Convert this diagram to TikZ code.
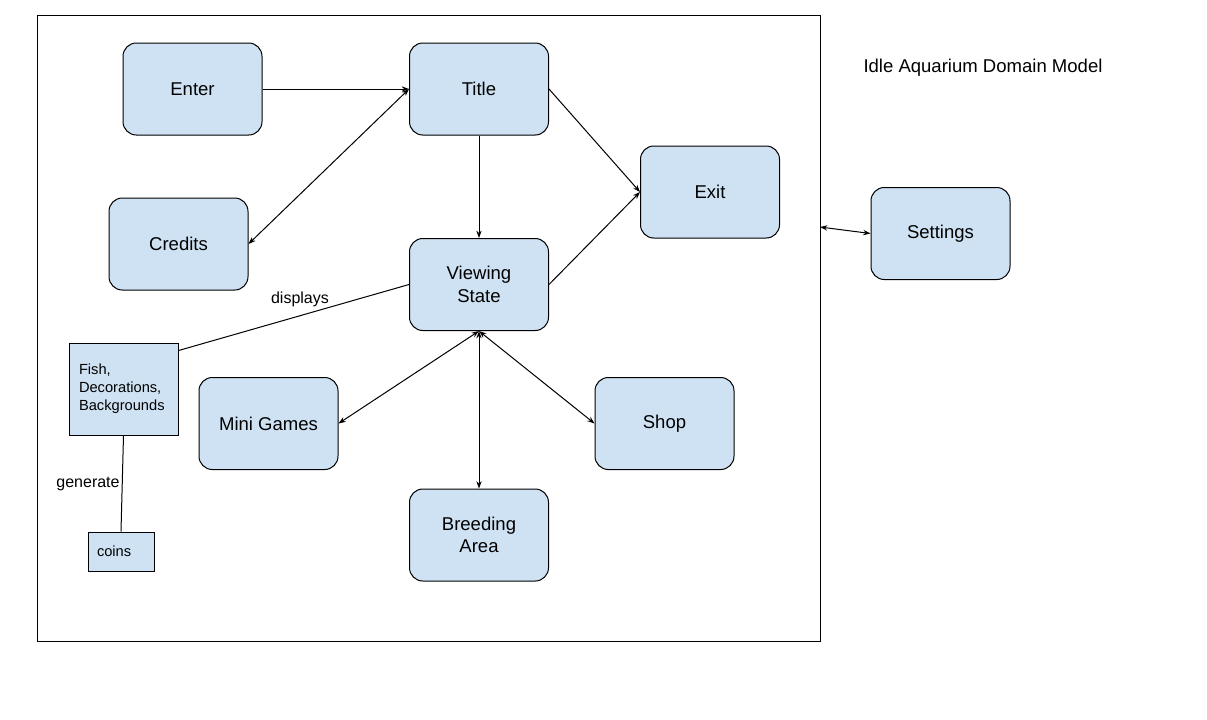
\documentclass[tikz,border=0pt]{standalone}
\usepackage{fontspec}
\setmainfont{Liberation Sans}
\usetikzlibrary{arrows.meta,calc}
\definecolor{boxblue}{HTML}{CFE2F3}
\begin{document}
\begin{tikzpicture}[x=0.75pt,y=-0.75pt,
  state/.style={draw=black, fill=boxblue, rounded corners=10pt, line width=0.75pt,
    minimum width=104.25pt, minimum height=69pt, align=center, font=\fontsize{13.9}{16.8}\selectfont},
  item/.style={draw=black, fill=boxblue, line width=0.7pt, align=left, font=\fontsize{11}{13.5}\selectfont},
  conn/.style={draw=black, line width=0.75pt},
  tip/.style={-{Stealth[length=5.5pt,width=4pt]}},
  dtip/.style={{Stealth[length=5.5pt,width=4pt]}-{Stealth[length=5.5pt,width=4pt]}},
  lbl/.style={font=\fontsize{12}{14}\selectfont}]
\useasboundingbox (0,0) rectangle (1207,719);
\draw[line width=0.75pt] (37,15) rectangle (820,641);
\node[font=\fontsize{13.9}{16}\selectfont] (head) at (983,68) {Idle Aquarium Domain Model};
\node[state] (en) at (192.5,89) {Enter};
\node[state] (ti) at (479,89) {Title};
\node[state] (cr) at (178.5,244) {Credits};
\node[state] (ex) at (710,192) {Exit};
\node[state] (vs) at (479,284.5) {Viewing\\State};
\node[state] (mg) at (268.5,423.5) {Mini Games};
\node[state] (sh) at (664.5,423.5) {Shop};
\node[state] (ba) at (479,535) {Breeding\\Area};
\node[state] (se) at (940.5,233.5) {Settings};
\node[item, text width=66.75pt, inner xsep=7.5pt, minimum height=69pt] (fish) at (123.5,389) {Fish,\\Decorations,\\Backgrounds};
\node[item, text width=36pt, inner xsep=6.75pt, minimum height=29.25pt] (coins) at (121,551.5) {coins};
\coordinate (fr) at (820,227);
\draw[conn,tip] (en.east) -- (ti.west);
\draw[conn,dtip] (cr.east) -- (ti.west);
\draw[conn,tip] (ti.south) -- (vs.north);
\draw[conn,tip] (ti.east) -- (ex.west);
\draw[conn,tip] (vs.east) -- (ex.west);
\draw[conn,dtip] (vs.south) -- (mg.east);
\draw[conn,dtip] (vs.south) -- (ba.north);
\draw[conn,dtip] (vs.south) -- (sh.west);
\draw[conn,dtip] (fr) -- (se.west);
\draw[conn] (vs.west) -- ($(fish.north east)+(0,8)$);
\draw[conn] (fish.south) -- (coins.north);
\node[lbl] (dl) at (300,299) {displays};
\node[lbl] (gl) at (88,484) {generate};
\end{tikzpicture}
\end{document}
